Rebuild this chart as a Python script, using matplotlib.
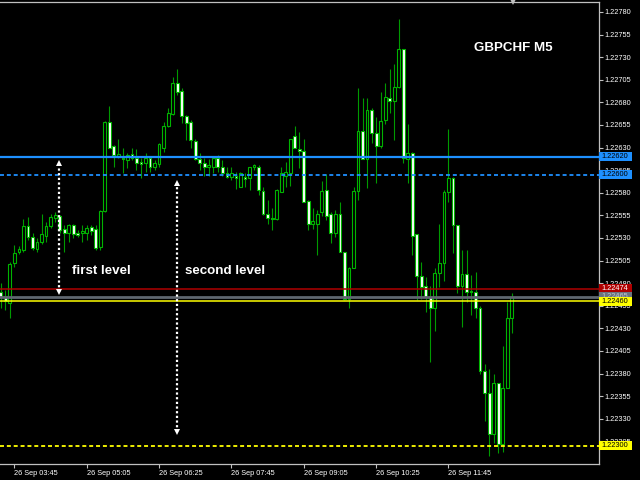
import matplotlib
matplotlib.use("Agg")
import matplotlib.pyplot as plt
import numpy as np
import pandas as pd
import matplotlib.transforms as mtransforms
from matplotlib.patches import Rectangle

# ---------------- data (GBPCHF M5, 26 Sep, bars from 03:30) ----------------
start_time = "2019-09-26 03:30"
opens = [1.22470, 1.22466, 1.22458, 1.22502, 1.22514, 1.22517, 1.22543, 1.22531, 1.22518, 1.22525,
         1.22532, 1.22543, 1.22552, 1.22554, 1.22540, 1.22535, 1.22544, 1.22535, 1.22535, 1.22535,
         1.22542, 1.22540, 1.22520, 1.22560, 1.22658, 1.22632, 1.22620, 1.22619, 1.22616, 1.22623,
         1.22619, 1.22614, 1.22613, 1.22618, 1.22609, 1.22612, 1.22630, 1.22654, 1.22667, 1.22701,
         1.22693, 1.22665, 1.22658, 1.22637, 1.22617, 1.22613, 1.22608, 1.22609, 1.22619, 1.22608,
         1.22602, 1.22597, 1.22599, 1.22586, 1.22597, 1.22596, 1.22608, 1.22609, 1.22582, 1.22557,
         1.22552, 1.22551, 1.22581, 1.22599, 1.22602, 1.22643, 1.22628, 1.22626, 1.22571, 1.22546,
         1.22546, 1.22559, 1.22583, 1.22557, 1.22535, 1.22557, 1.22514, 1.22462, 1.22497, 1.22582,
         1.22648, 1.22617, 1.22672, 1.22646, 1.22632, 1.22660, 1.22685, 1.22681, 1.22697, 1.22739,
         1.22617, 1.22624, 1.22534, 1.22488, 1.22477, 1.22465, 1.22452, 1.22491, 1.22502, 1.22581,
         1.22596, 1.22544, 1.22477, 1.22490, 1.22471, 1.22470, 1.22452, 1.22383, 1.22358, 1.22313,
         1.22370, 1.22302, 1.22364, 1.22442]
highs = [1.22480, 1.22472, 1.22503, 1.22522, 1.22521, 1.22551, 1.22553, 1.22535, 1.22530, 1.22557,
         1.22548, 1.22557, 1.22559, 1.22555, 1.22544, 1.22546, 1.22545, 1.22539, 1.22544, 1.22544,
         1.22544, 1.22544, 1.22561, 1.22659, 1.22676, 1.22633, 1.22639, 1.22629, 1.22624, 1.22630,
         1.22628, 1.22619, 1.22624, 1.22619, 1.22616, 1.22635, 1.22658, 1.22674, 1.22708, 1.22717,
         1.22696, 1.22666, 1.22660, 1.22640, 1.22624, 1.22618, 1.22617, 1.22619, 1.22622, 1.22616,
         1.22608, 1.22608, 1.22603, 1.22603, 1.22602, 1.22608, 1.22612, 1.22611, 1.22586, 1.22572,
         1.22563, 1.22584, 1.22608, 1.22614, 1.22640, 1.22654, 1.22647, 1.22639, 1.22572, 1.22563,
         1.22561, 1.22593, 1.22601, 1.22559, 1.22561, 1.22570, 1.22514, 1.22498, 1.22586, 1.22696,
         1.22685, 1.22685, 1.22674, 1.22664, 1.22691, 1.22701, 1.22717, 1.22722, 1.22772, 1.22739,
         1.22656, 1.22625, 1.22534, 1.22503, 1.22487, 1.22477, 1.22497, 1.22546, 1.22583, 1.22651,
         1.22597, 1.22544, 1.22517, 1.22517, 1.22489, 1.22492, 1.22455, 1.22391, 1.22385, 1.22380,
         1.22370, 1.22411, 1.22459, 1.22469]
lows = [1.22453, 1.22450, 1.22441, 1.22498, 1.22512, 1.22515, 1.22528, 1.22517, 1.22514, 1.22523,
        1.22525, 1.22541, 1.22548, 1.22535, 1.22514, 1.22525, 1.22530, 1.22531, 1.22525, 1.22528,
        1.22533, 1.22517, 1.22517, 1.22559, 1.22630, 1.22609, 1.22619, 1.22602, 1.22607, 1.22616,
        1.22605, 1.22596, 1.22603, 1.22603, 1.22605, 1.22608, 1.22625, 1.22653, 1.22666, 1.22688,
        1.22657, 1.22638, 1.22630, 1.22616, 1.22605, 1.22599, 1.22599, 1.22602, 1.22603, 1.22599,
        1.22596, 1.22594, 1.22584, 1.22586, 1.22586, 1.22583, 1.22605, 1.22577, 1.22555, 1.22546,
        1.22539, 1.22550, 1.22581, 1.22586, 1.22588, 1.22630, 1.22607, 1.22570, 1.22539, 1.22540,
        1.22511, 1.22554, 1.22550, 1.22524, 1.22531, 1.22514, 1.22461, 1.22453, 1.22497, 1.22572,
        1.22617, 1.22585, 1.22635, 1.22591, 1.22630, 1.22656, 1.22668, 1.22638, 1.22696, 1.22613,
        1.22591, 1.22511, 1.22461, 1.22463, 1.22448, 1.22393, 1.22427, 1.22476, 1.22482, 1.22570,
        1.22513, 1.22469, 1.22431, 1.22459, 1.22445, 1.22442, 1.22380, 1.22328, 1.22289, 1.22303,
        1.22292, 1.22293, 1.22364, 1.22425]
closes = [1.22465, 1.22460, 1.22501, 1.22513, 1.22518, 1.22543, 1.22531, 1.22519, 1.22525, 1.22534,
          1.22543, 1.22553, 1.22555, 1.22539, 1.22535, 1.22544, 1.22534, 1.22533, 1.22538, 1.22541,
          1.22538, 1.22519, 1.22560, 1.22658, 1.22630, 1.22622, 1.22623, 1.22617, 1.22622, 1.22619,
          1.22613, 1.22612, 1.22618, 1.22608, 1.22613, 1.22634, 1.22654, 1.22668, 1.22701, 1.22692,
          1.22665, 1.22657, 1.22638, 1.22617, 1.22613, 1.22608, 1.22611, 1.22619, 1.22608, 1.22602,
          1.22597, 1.22602, 1.22596, 1.22602, 1.22595, 1.22608, 1.22611, 1.22583, 1.22557, 1.22552,
          1.22551, 1.22583, 1.22602, 1.22603, 1.22640, 1.22630, 1.22626, 1.22570, 1.22546, 1.22549,
          1.22557, 1.22582, 1.22554, 1.22535, 1.22557, 1.22514, 1.22462, 1.22497, 1.22582, 1.22648,
          1.22617, 1.22672, 1.22646, 1.22632, 1.22659, 1.22686, 1.22681, 1.22697, 1.22739, 1.22619,
          1.22624, 1.22532, 1.22488, 1.22476, 1.22465, 1.22452, 1.22491, 1.22502, 1.22581, 1.22596,
          1.22544, 1.22477, 1.22490, 1.22470, 1.22470, 1.22452, 1.22383, 1.22358, 1.22313, 1.22370,
          1.22302, 1.22364, 1.22442, 1.22465]

time_tick_labels = ["26 Sep 03:45", "26 Sep 05:05", "26 Sep 06:25", "26 Sep 07:45",
                    "26 Sep 09:05", "26 Sep 10:25", "26 Sep 11:45"]
price_ticks = [1.22305, 1.22330, 1.22355, 1.22380, 1.22405, 1.22430, 1.22455, 1.22480,
               1.22505, 1.22530, 1.22555, 1.22580, 1.22605, 1.22630, 1.22655, 1.22680,
               1.22705, 1.22730, 1.22755, 1.22780]

# horizontal level objects: price, colour, style, label box colours
level_prices = [1.22620, 1.22600, 1.22474, 1.22460, 1.22300]
level_colors = ["#1e90ff", "#1e90ff", "#b00000", "#ffff00", "#ffff00"]
level_styles = ["-", "--", "-", "-", "--"]
level_text_colors = ["#000000", "#000000", "#ffffff", "#000000", "#000000"]

# measured ranges (arrows) and their captions
arrow_bar_pos = [12.9, 38.95]
arrow_tops = [1.22613, 1.22591]
arrow_bottoms = [1.22470, 1.22315]
arrow_texts = ["first level", "second level"]
text_bar_pos = [15.8, 40.75]
text_price = 1.22493

symbol_title = "GBPCHF M5"

# ---------------- figure ----------------
W, H = 640, 480
fig = plt.figure(figsize=(W / 100, H / 100), dpi=100, facecolor="black")
ax_left, ax_right, ax_top, ax_bottom = 0, 599, 2, 464
ax = fig.add_axes([ax_left / W, (H - ax_bottom) / H, (ax_right - ax_left) / W, (ax_bottom - ax_top) / H])
ax.set_facecolor("black")

times = pd.date_range(start_time, periods=len(opens), freq="5min")
idx = np.arange(len(opens))
o = np.array(opens); hi = np.array(highs); lo = np.array(lows); c = np.array(closes)
bull = c >= o

WICK = "#009a00"
EDGE = "#00b400"
ax.vlines(idx, lo, hi, color=WICK, lw=0.8, zorder=2)
body_bottom = np.minimum(o, c)
body_h = np.maximum(np.abs(c - o), 0.000006)
ax.bar(idx, body_h, bottom=body_bottom, width=0.62,
       color=np.where(bull, "black", "white"), edgecolor=EDGE, linewidth=0.8, zorder=3)

# bid line (last close)
ax.axhline(closes[-1], color="#5f6770", lw=2.0, zorder=4)
for p, col, ls in zip(level_prices, level_colors, level_styles):
    if ls == "--":
        ax.axhline(p, color=col, lw=1.3, ls=(0, (2.2, 1.6)), zorder=4)
    else:
        ax.axhline(p, color=col, lw=1.6 if col == "#1e90ff" else 1.1, zorder=4)

# arrows
for xb, top, bot in zip(arrow_bar_pos, arrow_tops, arrow_bottoms):
    ax.vlines(xb, bot, top, color="white", lw=1.6, linestyles=(0, (1, 1.1)), zorder=5)
    ax.plot([xb], [top], marker="^", color="white", ms=4.2, mew=0, zorder=6)
    ax.plot([xb], [bot], marker="v", color="white", ms=4.2, mew=0, zorder=6)

for xb, t in zip(text_bar_pos, arrow_texts):
    ax.text(xb, text_price, t, color="white", fontsize=9.6, fontweight="bold",
            family="Liberation Sans", ha="left", va="center", zorder=6)

ax.text(474 / 599, 1 - (48 - 2) / 462, symbol_title, transform=ax.transAxes, color="white",
        fontsize=9.6, fontweight="bold", family="Liberation Sans", ha="left", va="center")

# axes limits
ax.set_xlim(-0.19, 132.3)
ax.set_ylim(1.22280, 1.22791)

# y ticks on right
ax.yaxis.tick_right()
ax.set_yticks(price_ticks)
ax.set_yticklabels([f"{p:.5f}" for p in price_ticks])
ax.tick_params(axis="y", colors="#c0c0c0", labelcolor="white", length=3, width=0.8,
               pad=1, labelsize=5.3, direction="out")

# x ticks
tick_pos = [int(np.where(times.strftime("%d %b %H:%M") == lab)[0][0]) for lab in time_tick_labels]
ax.set_xticks(tick_pos)
ax.set_xticklabels(time_tick_labels)
ax.tick_params(axis="x", colors="#c0c0c0", labelcolor="white", length=3, width=0.8,
               pad=1, labelsize=5.3, direction="out")
for lab in ax.get_xticklabels() + ax.get_yticklabels():
    lab.set_family("Liberation Sans")
for lab in ax.get_xticklabels():
    lab.set_horizontalalignment("left")

for s in ["top", "right", "bottom"]:
    ax.spines[s].set_color("#c0c0c0")
    ax.spines[s].set_linewidth(0.9)
ax.spines["left"].set_visible(False)

# price label boxes on the right axis
trans = mtransforms.blended_transform_factory(ax.transAxes, ax.transData)
box_w = 33 / 599
box_h = 9 * (1.22791 - 1.22280) / 462
box_prices = [level_prices[0], level_prices[1], level_prices[2], closes[-1], level_prices[3], level_prices[4]]
box_colors = [level_colors[0], level_colors[1], level_colors[2], "#6a7480", level_colors[3], level_colors[4]]
box_tcolors = [level_text_colors[0], level_text_colors[1], level_text_colors[2], "#c0c8d0",
               level_text_colors[3], level_text_colors[4]]
for k, (p, bc, tc) in enumerate(zip(box_prices, box_colors, box_tcolors)):
    ax.add_patch(Rectangle((1.0, p - box_h / 2), box_w, box_h, transform=trans, facecolor=bc,
                           edgecolor="none", clip_on=False, zorder=7 + k))
    ax.text(1.0 + 2.5 / 599, p, f"{p:.5f}", transform=trans, color=tc, fontsize=5.3,
            family="Liberation Sans", ha="left", va="center", clip_on=False, zorder=7 + k)

# chart shift marker at the top
ax.plot([513 / 599], [1.0], transform=ax.transAxes, marker="v", color="#c0c0c0", ms=4, mew=0,
        clip_on=False, zorder=8)

fig.savefig("out.png", dpi=100, facecolor="black")
